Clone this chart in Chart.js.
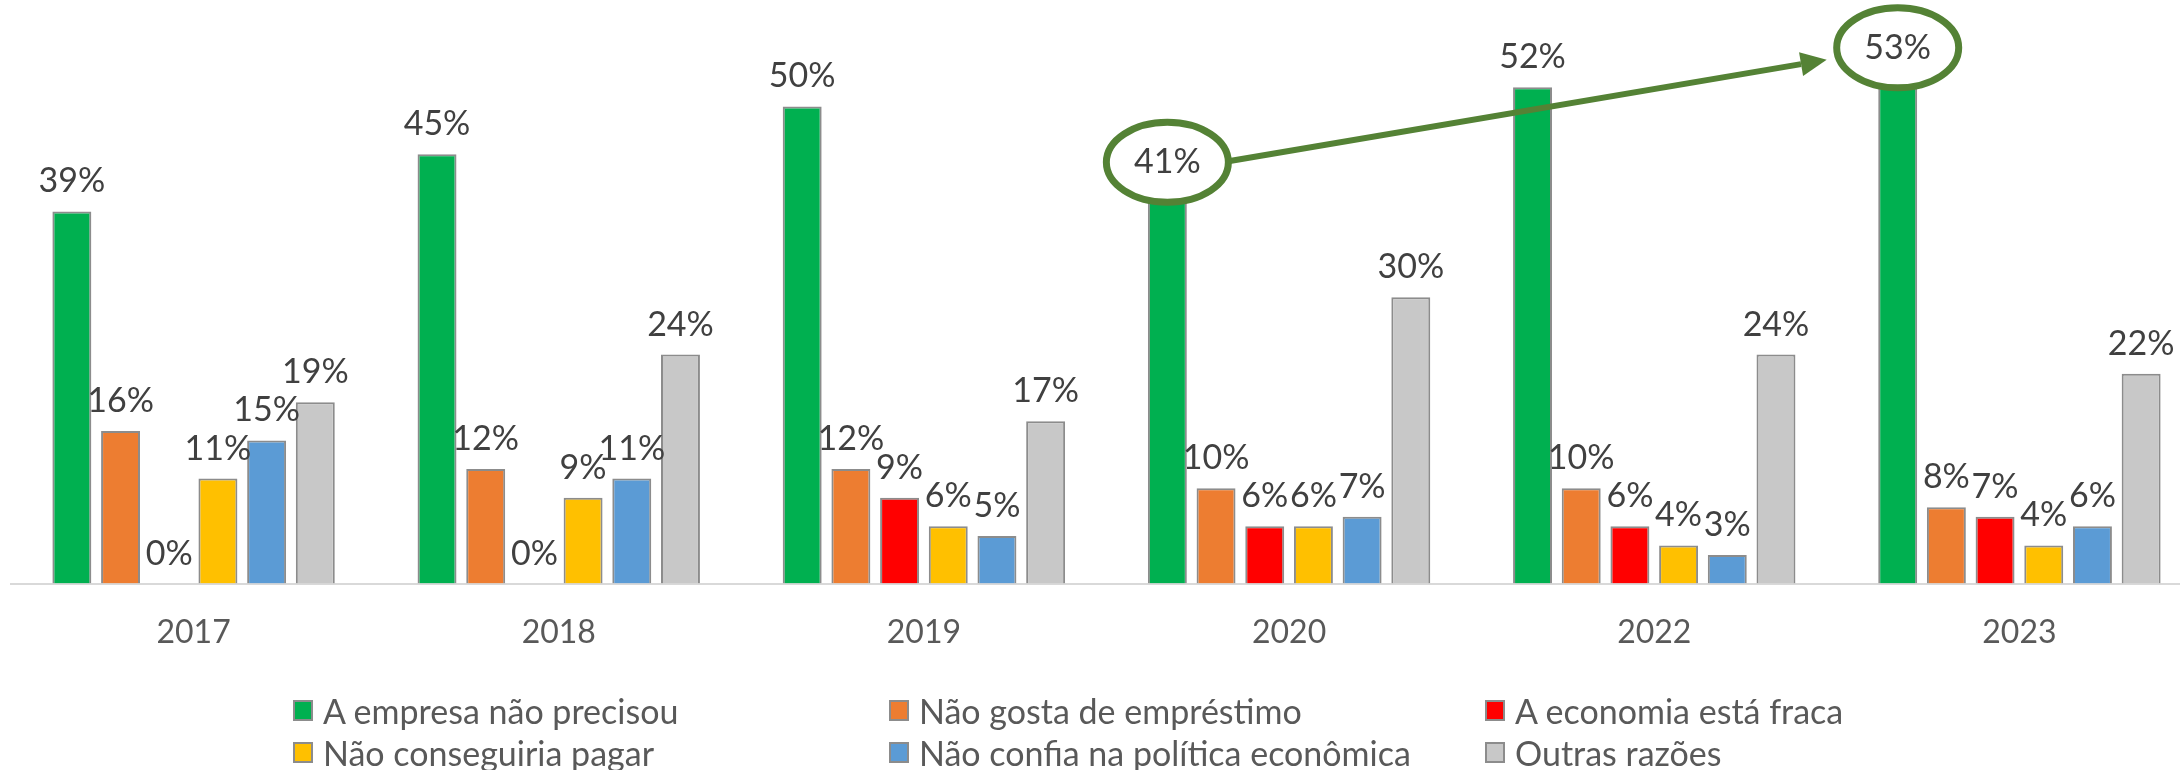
<!DOCTYPE html>
<html>
<head>
<meta charset="utf-8">
<script src="https://cdn.jsdelivr.net/npm/chart.js@4.4.1/dist/chart.umd.min.js"></script>
<style>
  body { margin: 0; background: #fff; overflow: hidden; }
  #wrap { position: relative; width: 2202px; height: 770px; }
  .item { position: absolute; display: flex; align-items: center; height: 40px;
          font-family: Lato, sans-serif; font-size: 34px; color: #595959; white-space: nowrap; }
  .box { width: 16px; height: 17px; border: 2px solid #8c8c8c; margin-right: 10px; }
</style>
</head>
<body>
<div id="wrap">
  <canvas id="chart" width="2202" height="770"></canvas>
  <div id="legend"></div>
</div>
<script>
// categories (survey years)
var years = ['2017', '2018', '2019', '2020', '2022', '2023'];

// series names + values in %
var seriesNames = [
  'A empresa não precisou',
  'Não gosta de empréstimo',
  'A economia está fraca',
  'Não conseguiria pagar',
  'Não confia na política econômica',
  'Outras razões'
];
var naoPrecisou = [39, 45, 50, 41, 52, 53];
var naoGosta = [16, 12, 12, 10, 10, 8];
var economiaFraca = [0, 0, 9, 6, 6, 7];
var naoPagar = [11, 9, 6, 6, 4, 4];
var naoConfia = [15, 11, 5, 7, 3, 6];
var outras = [19, 24, 17, 30, 24, 22];

var seriesColours = ['#00b050', '#ed7d31', '#ff0000', '#ffc000', '#5b9bd5', '#c8c8c8'];

// years that get the green circle, arrow goes from first to second
var circled = ['2020', '2023'];

var labelGap = 30; // label centre above bar top
var labelFont = '34px Lato, sans-serif';

var allSeries = [naoPrecisou, naoGosta, economiaFraca, naoPagar, naoConfia, outras];

var datasets = allSeries.map(function(values, i) {
  return {
    label: seriesNames[i],
    data: values,
    backgroundColor: seriesColours[i],
    borderColor: '#8c8c8c',
    borderWidth: 2,
    barPercentage: 0.8,
    categoryPercentage: 0.8
  };
});

// value labels over every bar
var valueLabels = {
  id: 'valueLabels',
  afterDatasetsDraw: function(chart) {
    var ctx = chart.ctx;
    ctx.save();
    ctx.font = labelFont;
    ctx.fillStyle = '#404040';
    ctx.textAlign = 'center';
    ctx.textBaseline = 'middle';
    chart.data.datasets.forEach(function(ds, i) {
      chart.getDatasetMeta(i).data.forEach(function(bar, j) {
        ctx.fillText(ds.data[j] + '%', bar.x, bar.y - labelGap);
      });
    });
    ctx.restore();
  }
};

// green circles round two labels + arrow between them
var highlight = {
  id: 'highlight',
  afterDraw: function(chart) {
    var ctx = chart.ctx;
    var meta = chart.getDatasetMeta(0);
    var rx = 61, ry = 40;
    var pts = circled.map(function(y) {
      var idx = years.indexOf(y);
      var bar = meta.data[idx];
      return { x: bar.x, y: bar.y - labelGap, v: naoPrecisou[idx] };
    });
    ctx.save();
    ctx.strokeStyle = '#548235';
    ctx.fillStyle = '#548235';

    // arrow line
    var sx = pts[0].x + rx, sy = pts[0].y - 1;
    var ex = pts[1].x - rx - 10, ey = pts[1].y + 12;
    var ang = Math.atan2(ey - sy, ex - sx);
    var headLen = 26, headW = 12;
    ctx.lineWidth = 6;
    ctx.beginPath();
    ctx.moveTo(sx, sy);
    ctx.lineTo(ex - headLen * Math.cos(ang), ey - headLen * Math.sin(ang));
    ctx.stroke();
    ctx.beginPath();
    ctx.moveTo(ex, ey);
    ctx.lineTo(ex - headLen * Math.cos(ang) + headW * Math.sin(ang), ey - headLen * Math.sin(ang) - headW * Math.cos(ang));
    ctx.lineTo(ex - headLen * Math.cos(ang) - headW * Math.sin(ang), ey - headLen * Math.sin(ang) + headW * Math.cos(ang));
    ctx.closePath();
    ctx.fill();

    // circles with label inside
    pts.forEach(function(p) {
      ctx.beginPath();
      ctx.ellipse(p.x, p.y, rx, ry, 0, 0, Math.PI * 2);
      ctx.fillStyle = '#ffffff';
      ctx.fill();
      ctx.lineWidth = 7;
      ctx.stroke();
      ctx.font = labelFont;
      ctx.fillStyle = '#404040';
      ctx.textAlign = 'center';
      ctx.textBaseline = 'middle';
      ctx.fillText(p.v + '%', p.x, p.y);
    });
    ctx.restore();
  }
};

var ctx = document.getElementById('chart').getContext('2d');
var chart = new Chart(ctx, {
  type: 'bar',
  data: { labels: years, datasets: datasets },
  options: {
    responsive: false,
    animation: false,
    devicePixelRatio: 1,
    layout: { padding: { left: 11, right: 0, top: 11, bottom: 88 } },
    plugins: {
      legend: { display: false },
      tooltip: { enabled: false }
    },
    scales: {
      x: {
        grid: { display: false, drawTicks: false },
        border: { display: true, color: '#d9d9d9', width: 2 },
        ticks: {
          padding: 30,
          color: '#595959',
          font: { family: 'Lato, sans-serif', size: 32 }
        }
      },
      y: {
        display: false,
        min: 0,
        max: 60
      }
    }
  },
  plugins: [valueLabels, highlight]
});

// legend, 3 columns x 2 rows
var legend = document.getElementById('legend');
seriesNames.forEach(function(name, i) {
  var item = document.createElement('div');
  item.className = 'item';
  item.style.left = (293 + (i % 3) * 596) + 'px';
  item.style.top = (690 + Math.floor(i / 3) * 42) + 'px';
  var box = document.createElement('span');
  box.className = 'box';
  box.style.background = seriesColours[i];
  item.appendChild(box);
  item.appendChild(document.createTextNode(name));
  legend.appendChild(item);
});
</script>
</body>
</html>
